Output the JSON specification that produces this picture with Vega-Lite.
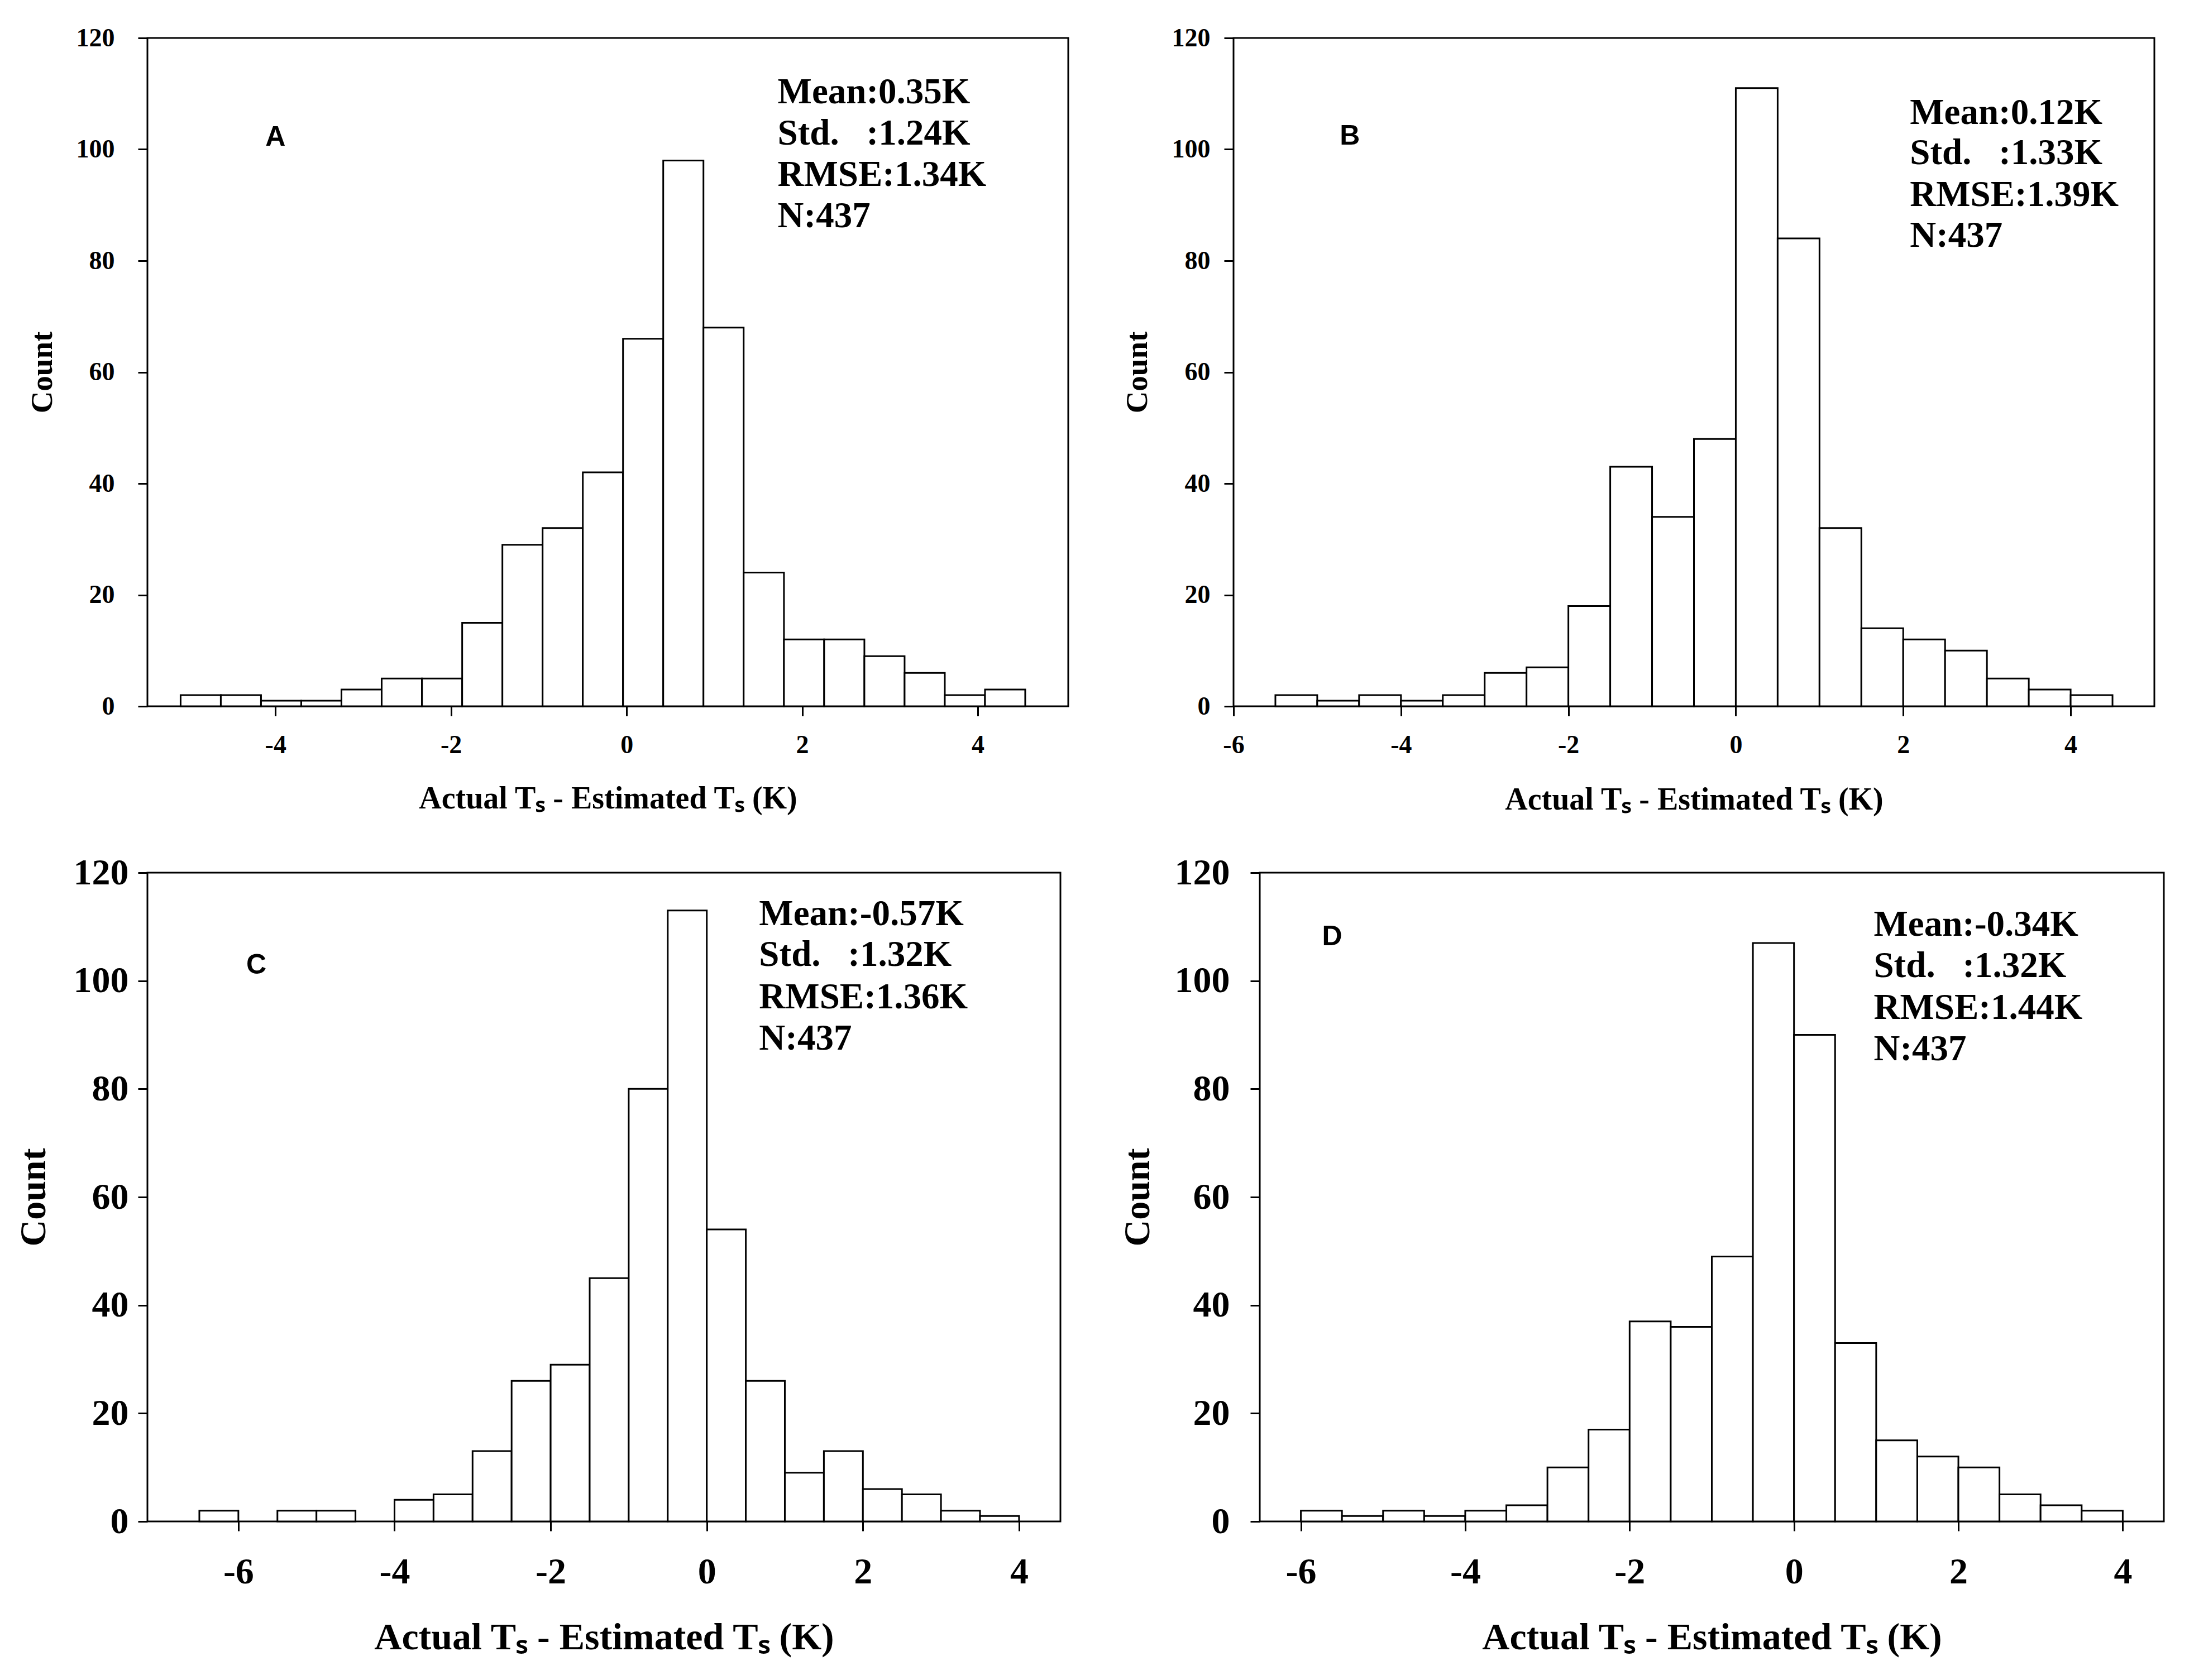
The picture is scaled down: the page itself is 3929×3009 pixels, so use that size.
{
  "$schema": "https://vega.github.io/schema/vega-lite/v6.json",
  "background": "white",
  "padding": {"left": 25, "top": 43, "right": 10, "bottom": 10},
  "autosize": {"type": "pad"},
  "config": {
    "view": {"stroke": "black", "strokeWidth": 3},
    "axis": {
      "domain": false, "grid": false,
      "tickColor": "black", "tickWidth": 3, "tickSize": 17,
      "labelColor": "black", "titleColor": "black",
      "labelFont": "Liberation Serif", "titleFont": "Liberation Serif",
      "labelFontWeight": "bold", "titleFontWeight": "bold",
      "labelFlush": false, "labelOverlap": false,
      "labelExpr": "'' + datum.value"
    }
  },
  "datasets": {
    "barsA": [
      {"x0": -5.080, "x1": -4.622, "count": 2},
      {"x0": -4.622, "x1": -4.164, "count": 2},
      {"x0": -4.164, "x1": -3.706, "count": 1},
      {"x0": -3.706, "x1": -3.248, "count": 1},
      {"x0": -3.248, "x1": -2.790, "count": 3},
      {"x0": -2.790, "x1": -2.331, "count": 5},
      {"x0": -2.331, "x1": -1.873, "count": 5},
      {"x0": -1.873, "x1": -1.415, "count": 15},
      {"x0": -1.415, "x1": -0.957, "count": 29},
      {"x0": -0.957, "x1": -0.499, "count": 32},
      {"x0": -0.499, "x1": -0.041, "count": 42},
      {"x0": -0.041, "x1": 0.417, "count": 66},
      {"x0": 0.417, "x1": 0.875, "count": 98},
      {"x0": 0.875, "x1": 1.333, "count": 68},
      {"x0": 1.333, "x1": 1.792, "count": 24},
      {"x0": 1.792, "x1": 2.250, "count": 12},
      {"x0": 2.250, "x1": 2.708, "count": 12},
      {"x0": 2.708, "x1": 3.166, "count": 9},
      {"x0": 3.166, "x1": 3.624, "count": 6},
      {"x0": 3.624, "x1": 4.082, "count": 2},
      {"x0": 4.082, "x1": 4.540, "count": 3}
    ],
    "barsB": [
      {"x0": -5.5, "x1": -5.0, "count": 2},
      {"x0": -5.0, "x1": -4.5, "count": 1},
      {"x0": -4.5, "x1": -4.0, "count": 2},
      {"x0": -4.0, "x1": -3.5, "count": 1},
      {"x0": -3.5, "x1": -3.0, "count": 2},
      {"x0": -3.0, "x1": -2.5, "count": 6},
      {"x0": -2.5, "x1": -2.0, "count": 7},
      {"x0": -2.0, "x1": -1.5, "count": 18},
      {"x0": -1.5, "x1": -1.0, "count": 43},
      {"x0": -1.0, "x1": -0.5, "count": 34},
      {"x0": -0.5, "x1": 0.0, "count": 48},
      {"x0": 0.0, "x1": 0.5, "count": 111},
      {"x0": 0.5, "x1": 1.0, "count": 84},
      {"x0": 1.0, "x1": 1.5, "count": 32},
      {"x0": 1.5, "x1": 2.0, "count": 14},
      {"x0": 2.0, "x1": 2.5, "count": 12},
      {"x0": 2.5, "x1": 3.0, "count": 10},
      {"x0": 3.0, "x1": 3.5, "count": 5},
      {"x0": 3.5, "x1": 4.0, "count": 3},
      {"x0": 4.0, "x1": 4.5, "count": 2}
    ],
    "barsC": [
      {"x0": -6.5, "x1": -6.0, "count": 2},
      {"x0": -5.5, "x1": -5.0, "count": 2},
      {"x0": -5.0, "x1": -4.5, "count": 2},
      {"x0": -4.0, "x1": -3.5, "count": 4},
      {"x0": -3.5, "x1": -3.0, "count": 5},
      {"x0": -3.0, "x1": -2.5, "count": 13},
      {"x0": -2.5, "x1": -2.0, "count": 26},
      {"x0": -2.0, "x1": -1.5, "count": 29},
      {"x0": -1.5, "x1": -1.0, "count": 45},
      {"x0": -1.0, "x1": -0.5, "count": 80},
      {"x0": -0.5, "x1": 0.0, "count": 113},
      {"x0": 0.0, "x1": 0.5, "count": 54},
      {"x0": 0.5, "x1": 1.0, "count": 26},
      {"x0": 1.0, "x1": 1.5, "count": 9},
      {"x0": 1.5, "x1": 2.0, "count": 13},
      {"x0": 2.0, "x1": 2.5, "count": 6},
      {"x0": 2.5, "x1": 3.0, "count": 5},
      {"x0": 3.0, "x1": 3.5, "count": 2},
      {"x0": 3.5, "x1": 4.0, "count": 1}
    ],
    "barsD": [
      {"x0": -6.0, "x1": -5.5, "count": 2},
      {"x0": -5.5, "x1": -5.0, "count": 1},
      {"x0": -5.0, "x1": -4.5, "count": 2},
      {"x0": -4.5, "x1": -4.0, "count": 1},
      {"x0": -4.0, "x1": -3.5, "count": 2},
      {"x0": -3.5, "x1": -3.0, "count": 3},
      {"x0": -3.0, "x1": -2.5, "count": 10},
      {"x0": -2.5, "x1": -2.0, "count": 17},
      {"x0": -2.0, "x1": -1.5, "count": 37},
      {"x0": -1.5, "x1": -1.0, "count": 36},
      {"x0": -1.0, "x1": -0.5, "count": 49},
      {"x0": -0.5, "x1": 0.0, "count": 107},
      {"x0": 0.0, "x1": 0.5, "count": 90},
      {"x0": 0.5, "x1": 1.0, "count": 33},
      {"x0": 1.0, "x1": 1.5, "count": 15},
      {"x0": 1.5, "x1": 2.0, "count": 12},
      {"x0": 2.0, "x1": 2.5, "count": 10},
      {"x0": 2.5, "x1": 3.0, "count": 5},
      {"x0": 3.0, "x1": 3.5, "count": 3},
      {"x0": 3.5, "x1": 4.0, "count": 2}
    ],
    "statsA": [
      {"x": 1.72, "y": 108.3, "t": "Mean:0.35K"},
      {"x": 1.72, "y": 100.9, "t": "Std.\u00a0\u00a0\u00a0:1.24K"},
      {"x": 1.72, "y": 93.4, "t": "RMSE:1.34K"},
      {"x": 1.72, "y": 86.0, "t": "N:437"}
    ],
    "statsB": [
      {"x": 2.08, "y": 104.6, "t": "Mean:0.12K"},
      {"x": 2.08, "y": 97.3, "t": "Std.\u00a0\u00a0\u00a0:1.33K"},
      {"x": 2.08, "y": 89.8, "t": "RMSE:1.39K"},
      {"x": 2.08, "y": 82.5, "t": "N:437"}
    ],
    "statsC": [
      {"x": 0.67, "y": 110.3, "t": "Mean:-0.57K"},
      {"x": 0.67, "y": 102.8, "t": "Std.\u00a0\u00a0\u00a0:1.32K"},
      {"x": 0.67, "y": 94.9, "t": "RMSE:1.36K"},
      {"x": 0.67, "y": 87.3, "t": "N:437"}
    ],
    "statsD": [
      {"x": 0.97, "y": 108.3, "t": "Mean:-0.34K"},
      {"x": 0.97, "y": 100.7, "t": "Std.\u00a0\u00a0\u00a0:1.32K"},
      {"x": 0.97, "y": 92.9, "t": "RMSE:1.44K"},
      {"x": 0.97, "y": 85.3, "t": "N:437"}
    ],
    "letterA": [{"x": -4.0, "y": 102.2, "t": "A"}],
    "letterB": [{"x": -4.61, "y": 102.4, "t": "B"}],
    "letterC": [{"x": -5.77, "y": 102.9, "t": "C"}],
    "letterD": [{"x": -5.62, "y": 108.1, "t": "D"}]
  },
  "vconcat": [
    {
      "hconcat": [
        {
          "width": 1649, "height": 1197,
          "layer": [
            {
              "data": {"name": "barsA"},
              "mark": {"type": "rect", "fill": "white", "stroke": "black", "strokeWidth": 3},
              "encoding": {
                "x": {"field": "x0", "type": "quantitative", "scale": {"domain": [-5.458, 5.03], "nice": false, "zero": false},
                  "axis": {"values": [-4, -2, 0, 2, 4], "labelFontSize": 46, "labelPadding": 30, "titleFontSize": 56, "titleY": 138},
                  "title": "Actual T\u209b - Estimated T\u209b (K)"},
                "x2": {"field": "x1"},
                "y": {"field": "count", "type": "quantitative", "scale": {"domain": [0, 120], "nice": false},
                  "axis": {"values": [0, 20, 40, 60, 80, 100, 120], "labelFontSize": 46, "labelPadding": 42, "titleFontSize": 55, "titleX": -160},
                  "title": "Count"},
                "y2": {"datum": 0}
              }
            },
            {
              "data": {"name": "statsA"},
              "mark": {"type": "text", "align": "left", "baseline": "alphabetic", "font": "Liberation Serif", "fontWeight": "bold", "fontSize": 65, "color": "black"},
              "encoding": {"x": {"field": "x", "type": "quantitative"}, "y": {"field": "y", "type": "quantitative"}, "text": {"field": "t"}}
            },
            {
              "data": {"name": "letterA"},
              "mark": {"type": "text", "align": "center", "baseline": "middle", "font": "Liberation Sans", "fontWeight": "bold", "fontSize": 50, "color": "black"},
              "encoding": {"x": {"field": "x", "type": "quantitative"}, "y": {"field": "y", "type": "quantitative"}, "text": {"field": "t"}}
            }
          ]
        },
        {
          "width": 1649, "height": 1197,
          "layer": [
            {
              "data": {"name": "barsB"},
              "mark": {"type": "rect", "fill": "white", "stroke": "black", "strokeWidth": 3},
              "encoding": {
                "x": {"field": "x0", "type": "quantitative", "scale": {"domain": [-6, 5], "nice": false, "zero": false},
                  "axis": {"values": [-6, -4, -2, 0, 2, 4], "labelFontSize": 46, "labelPadding": 30, "titleFontSize": 56, "titleY": 140},
                  "title": "Actual T\u209b - Estimated T\u209b (K)"},
                "x2": {"field": "x1"},
                "y": {"field": "count", "type": "quantitative", "scale": {"domain": [0, 120], "nice": false},
                  "axis": {"values": [0, 20, 40, 60, 80, 100, 120], "labelFontSize": 46, "labelPadding": 25, "titleFontSize": 55, "titleX": -144},
                  "title": "Count"},
                "y2": {"datum": 0}
              }
            },
            {
              "data": {"name": "statsB"},
              "mark": {"type": "text", "align": "left", "baseline": "alphabetic", "font": "Liberation Serif", "fontWeight": "bold", "fontSize": 65, "color": "black"},
              "encoding": {"x": {"field": "x", "type": "quantitative"}, "y": {"field": "y", "type": "quantitative"}, "text": {"field": "t"}}
            },
            {
              "data": {"name": "letterB"},
              "mark": {"type": "text", "align": "center", "baseline": "middle", "font": "Liberation Sans", "fontWeight": "bold", "fontSize": 50, "color": "black"},
              "encoding": {"x": {"field": "x", "type": "quantitative"}, "y": {"field": "y", "type": "quantitative"}, "text": {"field": "t"}}
            }
          ]
        }
      ],
      "spacing": 296,
      "bounds": "flush"
    },
    {
      "hconcat": [
        {
          "width": 1635, "height": 1162,
          "layer": [
            {
              "data": {"name": "barsC"},
              "mark": {"type": "rect", "fill": "white", "stroke": "black", "strokeWidth": 3},
              "encoding": {
                "x": {"field": "x0", "type": "quantitative", "scale": {"domain": [-7.165, 4.53], "nice": false, "zero": false},
                  "axis": {"values": [-6, -4, -2, 0, 2, 4], "labelFontSize": 66, "labelPadding": 41, "titleFontSize": 68, "titleY": 174},
                  "title": "Actual T\u209b - Estimated T\u209b (K)"},
                "x2": {"field": "x1"},
                "y": {"field": "count", "type": "quantitative", "scale": {"domain": [0, 120], "nice": false},
                  "axis": {"values": [0, 20, 40, 60, 80, 100, 120], "labelFontSize": 66, "labelPadding": 17, "titleFontSize": 66, "titleX": -170},
                  "title": "Count"},
                "y2": {"datum": 0}
              }
            },
            {
              "data": {"name": "statsC"},
              "mark": {"type": "text", "align": "left", "baseline": "alphabetic", "font": "Liberation Serif", "fontWeight": "bold", "fontSize": 65, "color": "black"},
              "encoding": {"x": {"field": "x", "type": "quantitative"}, "y": {"field": "y", "type": "quantitative"}, "text": {"field": "t"}}
            },
            {
              "data": {"name": "letterC"},
              "mark": {"type": "text", "align": "center", "baseline": "middle", "font": "Liberation Sans", "fontWeight": "bold", "fontSize": 50, "color": "black"},
              "encoding": {"x": {"field": "x", "type": "quantitative"}, "y": {"field": "y", "type": "quantitative"}, "text": {"field": "t"}}
            }
          ]
        },
        {
          "width": 1619, "height": 1162,
          "layer": [
            {
              "data": {"name": "barsD"},
              "mark": {"type": "rect", "fill": "white", "stroke": "black", "strokeWidth": 3},
              "encoding": {
                "x": {"field": "x0", "type": "quantitative", "scale": {"domain": [-6.5, 4.5], "nice": false, "zero": false},
                  "axis": {"values": [-6, -4, -2, 0, 2, 4], "labelFontSize": 66, "labelPadding": 41, "titleFontSize": 68, "titleY": 174},
                  "title": "Actual T\u209b - Estimated T\u209b (K)"},
                "x2": {"field": "x1"},
                "y": {"field": "count", "type": "quantitative", "scale": {"domain": [0, 120], "nice": false},
                  "axis": {"values": [0, 20, 40, 60, 80, 100, 120], "labelFontSize": 66, "labelPadding": 37, "titleFontSize": 66, "titleX": -185},
                  "title": "Count"},
                "y2": {"datum": 0}
              }
            },
            {
              "data": {"name": "statsD"},
              "mark": {"type": "text", "align": "left", "baseline": "alphabetic", "font": "Liberation Serif", "fontWeight": "bold", "fontSize": 65, "color": "black"},
              "encoding": {"x": {"field": "x", "type": "quantitative"}, "y": {"field": "y", "type": "quantitative"}, "text": {"field": "t"}}
            },
            {
              "data": {"name": "letterD"},
              "mark": {"type": "text", "align": "center", "baseline": "middle", "font": "Liberation Sans", "fontWeight": "bold", "fontSize": 50, "color": "black"},
              "encoding": {"x": {"field": "x", "type": "quantitative"}, "y": {"field": "y", "type": "quantitative"}, "text": {"field": "t"}}
            }
          ]
        }
      ],
      "spacing": 357,
      "bounds": "flush"
    }
  ],
  "spacing": 66,
  "bounds": "full"
}
